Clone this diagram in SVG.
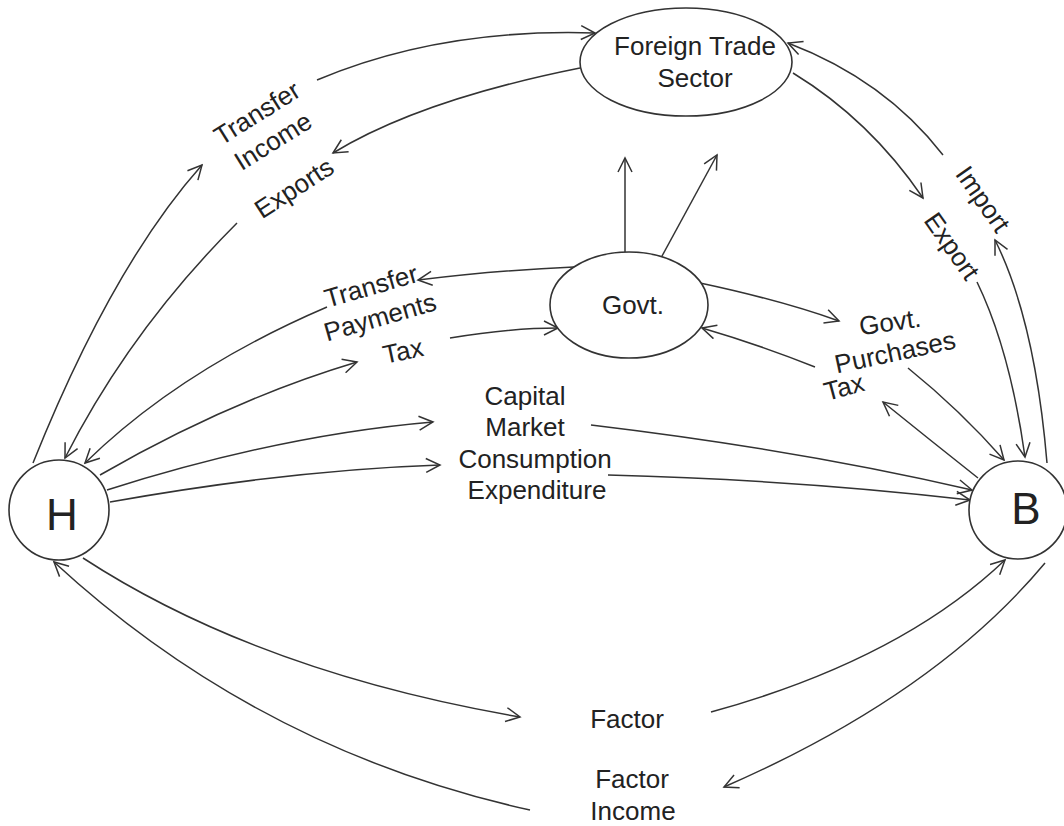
<svg xmlns="http://www.w3.org/2000/svg" width="1064" height="826" viewBox="0 0 1064 826">
<style>
.node{fill:#fff;stroke:#333;stroke-width:1.6}
.lbl{font-family:"Liberation Sans",Arial,sans-serif;font-size:26px;fill:#222;text-anchor:middle}
.big{font-family:"Liberation Sans",Arial,sans-serif;font-size:44px;fill:#222;text-anchor:middle}
.c{fill:none;stroke:#333;stroke-width:1.5}
</style>
<defs>
<marker id="arr" viewBox="0 0 18 16" markerWidth="18" markerHeight="16" refX="16" refY="8" orient="auto" markerUnits="userSpaceOnUse">
<path d="M2,1 L16,8 L2,15" fill="none" stroke="#333" stroke-width="1.5"/>
</marker>
</defs>
<rect width="1064" height="826" fill="#fff"/>
<g id="connectors">
<path class="c" d="M33,463 Q112,266 202,165" marker-end="url(#arr)"/>
<path class="c" d="M317,80 Q440,28 595,33" marker-end="url(#arr)"/>
<path class="c" d="M580,68 Q420,100 333,153" marker-end="url(#arr)"/>
<path class="c" d="M237,223 Q130,330 65,458" marker-end="url(#arr)"/>
<path class="c" d="M574,267 Q500,270 418,280" marker-end="url(#arr)"/>
<path class="c" d="M327,307 Q180,370 85,463" marker-end="url(#arr)"/>
<path class="c" d="M100,475 Q230,400 357,362" marker-end="url(#arr)"/>
<path class="c" d="M450,338 Q510,328 558,328" marker-end="url(#arr)"/>
<path class="c" d="M107,490 Q280,435 433,422" marker-end="url(#arr)"/>
<path class="c" d="M110,502 Q290,470 440,465" marker-end="url(#arr)"/>
<path class="c" d="M591,425 Q800,450 972,490" marker-end="url(#arr)"/>
<path class="c" d="M608,475 Q800,480 970,500" marker-end="url(#arr)"/>
<path class="c" d="M700,283 Q780,300 839,321" marker-end="url(#arr)"/>
<path class="c" d="M815,367 Q760,345 702,328" marker-end="url(#arr)"/>
<path class="c" d="M908,368 Q960,410 1004,460" marker-end="url(#arr)"/>
<path class="c" d="M978,478 Q930,440 883,402" marker-end="url(#arr)"/>
<path class="c" d="M625,252 L625,158" marker-end="url(#arr)"/>
<path class="c" d="M662,256 L717,155" marker-end="url(#arr)"/>
<path class="c" d="M793,73 Q870,120 923,198" marker-end="url(#arr)"/>
<path class="c" d="M977,282 Q1010,350 1025,457" marker-end="url(#arr)"/>
<path class="c" d="M1047,463 Q1035,320 995,240" marker-end="url(#arr)"/>
<path class="c" d="M943,155 Q885,80 788,43" marker-end="url(#arr)"/>
<path class="c" d="M83,558 Q258,672 520,717" marker-end="url(#arr)"/>
<path class="c" d="M711,712 Q900,660 1005,560" marker-end="url(#arr)"/>
<path class="c" d="M1045,563 Q935,695 724,787" marker-end="url(#arr)"/>
<path class="c" d="M530,810 Q258,750 54,562" marker-end="url(#arr)"/>
</g>
<g id="node-H">
<circle class="node" cx="59" cy="510" r="50"/>
<text class="big" x="62" y="530">H</text>
</g>
<g id="node-B">
<circle class="node" cx="1018" cy="510" r="49"/>
<text class="big" x="1026" y="524">B</text>
</g>
<g id="node-foreign">
<ellipse class="node" cx="686" cy="62" rx="106" ry="54"/>
<text class="lbl" x="695" y="55">Foreign Trade</text>
<text class="lbl" x="695" y="87">Sector</text>
</g>
<g id="node-govt">
<ellipse class="node" cx="629" cy="305" rx="79" ry="53"/>
<text class="lbl" x="633" y="314">Govt.</text>
</g>
<g id="labels">
<text class="lbl" transform="translate(257,113) rotate(-32)" y="9">Transfer</text>
<text class="lbl" transform="translate(273,141) rotate(-32)" y="9">Income</text>
<text class="lbl" transform="translate(294,188) rotate(-33)" y="9">Exports</text>
<text class="lbl" transform="translate(371,286) rotate(-16)" y="9">Transfer</text>
<text class="lbl" transform="translate(380,317) rotate(-16)" y="9">Payments</text>
<text class="lbl" transform="translate(403,351) rotate(-12)" y="9">Tax</text>
<text class="lbl" x="525" y="405">Capital</text>
<text class="lbl" x="525" y="436">Market</text>
<text class="lbl" x="535" y="468">Consumption</text>
<text class="lbl" x="537" y="499">Expenditure</text>
<text class="lbl" transform="translate(890,322) rotate(-8)" y="9">Govt.</text>
<text class="lbl" transform="translate(895,352) rotate(-12)" y="9">Purchases</text>
<text class="lbl" transform="translate(844,387) rotate(-15)" y="9">Tax</text>
<text class="lbl" transform="translate(983,199) rotate(55)" y="9">Import</text>
<text class="lbl" transform="translate(952,246) rotate(55)" y="9">Export</text>
<text class="lbl" x="627" y="728">Factor</text>
<text class="lbl" x="632" y="788">Factor</text>
<text class="lbl" x="633" y="820">Income</text>
</g>
</svg>
